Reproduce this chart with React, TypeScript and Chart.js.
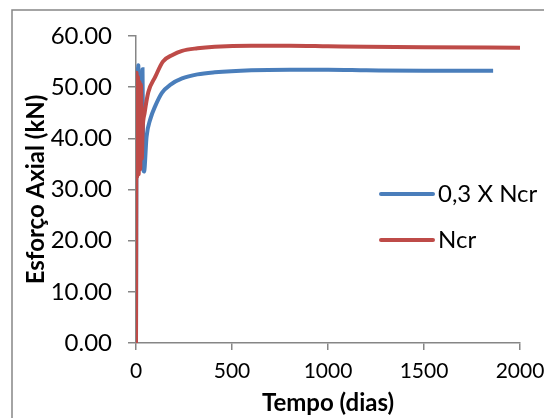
import React, { useEffect, useRef } from "react";
import { Chart, registerables } from "chart.js";

Chart.register(...registerables);

const seriesNames = ["0,3 X Ncr", "Ncr"];
const blueDays = [0, 4, 8, 12, 16, 22, 28, 34, 38, 42, 55, 75, 100, 135, 180, 240, 320, 410, 600, 800, 1000, 1200, 1500, 1860];
const blueValues = [0, 53.5, 36, 54.3, 38, 51, 37, 53.5, 34, 33.5, 40.3, 43.8, 46.3, 48.9, 50.5, 51.7, 52.5, 52.9, 53.3, 53.4, 53.4, 53.3, 53.2, 53.2];
const redDays = [0, 3, 6, 10, 14, 18, 22, 26, 30, 35, 45, 64, 100, 140, 190, 240, 320, 410, 600, 800, 1000, 1200, 1500, 2000];
const redValues = [0, 52.8, 32.5, 52, 33, 51, 34, 50.5, 36, 42, 45, 49, 52, 55, 56.3, 57.1, 57.6, 57.9, 58.1, 58.1, 58.0, 57.9, 57.8, 57.7];
const xTicks = [0, 500, 1000, 1500, 2000];
const yTicks = [0, 10, 20, 30, 40, 50, 60];

const BLUE = "#4A7EBB";
const RED = "#BE4B48";
const AXIS = "#868686";
const FONT = "Lato";
const FS = 24;

const legendBorderPlugin = {
  id: "legendBorder",
  afterDraw(chart: any) {
    const ctx = chart.ctx;
    ctx.save();
    ctx.strokeStyle = AXIS;
    ctx.lineWidth = 1.5;
    ctx.strokeRect(4, 2, chart.width + 20, chart.height + 20);
    const items = [
      { name: seriesNames[0], color: BLUE, y: 186 },
      { name: seriesNames[1], color: RED, y: 232 },
    ];
    ctx.font = `${FS}px ${FONT}`;
    ctx.textBaseline = "middle";
    ctx.textAlign = "left";
    items.forEach((it) => {
      ctx.strokeStyle = it.color;
      ctx.lineWidth = 4;
      ctx.lineCap = "round";
      ctx.beginPath();
      ctx.moveTo(373, it.y);
      ctx.lineTo(425, it.y);
      ctx.stroke();
      ctx.fillStyle = "#000";
      ctx.fillText(it.name, 430, it.y);
    });
    ctx.restore();
  },
};

export default function App() {
  const ref = useRef<HTMLCanvasElement>(null);
  useEffect(() => {
    if (!ref.current) return;
    const chart = new Chart(ref.current, {
      type: "scatter",
      data: {
        datasets: [
          {
            label: seriesNames[0],
            data: blueDays.map((d, i) => ({ x: d, y: blueValues[i] })),
            showLine: true,
            borderColor: BLUE,
            backgroundColor: BLUE,
            borderWidth: 4,
            pointRadius: 0,
            cubicInterpolationMode: "monotone",
            order: 2,
          },
          {
            label: seriesNames[1],
            data: redDays.map((d, i) => ({ x: d, y: redValues[i] })),
            showLine: true,
            borderColor: RED,
            backgroundColor: RED,
            borderWidth: 4,
            pointRadius: 0,
            cubicInterpolationMode: "monotone",
            order: 1,
          },
        ],
      },
      options: {
        animation: false,
        responsive: false,
        layout: { padding: { top: 28, right: 32, left: 0, bottom: 0 } },
        plugins: { legend: { display: false }, tooltip: { enabled: false } },
        scales: {
          x: {
            type: "linear",
            min: 0,
            max: 2000,
            afterBuildTicks: (s: any) => { s.ticks = xTicks.map((v) => ({ value: v })); },
            afterFit: (s: any) => { s.height = 75; s.paddingRight = 0; s.paddingLeft = 0; },
            grid: { drawOnChartArea: false, drawTicks: true, tickLength: 7, color: AXIS, lineWidth: 1.5 },
            border: { display: true, color: AXIS, width: 1.5 },
            ticks: { color: "#000", font: { family: FONT, size: 21 }, padding: 9, maxRotation: 0, callback: (v: any) => String(v) },
            title: { display: true, text: "Tempo (dias)", color: "#000", font: { family: FONT, size: FS, weight: "bold" }, padding: { top: 0, bottom: 0 } },
          },
          y: {
            min: 0,
            max: 60,
            afterBuildTicks: (s: any) => { s.ticks = yTicks.map((v) => ({ value: v })); },
            afterFit: (s: any) => { s.width = 128; s.paddingTop = 0; s.paddingBottom = 0; },
            grid: { drawOnChartArea: false, drawTicks: true, tickLength: 8, color: AXIS, lineWidth: 1.5 },
            border: { display: true, color: AXIS, width: 1.5 },
            ticks: { color: "#000", font: { family: FONT, size: FS }, padding: 16, callback: (v: any) => Number(v).toFixed(2) },
            title: { display: true, text: "Esforço Axial (kN)", color: "#000", font: { family: FONT, size: FS, weight: "bold" }, padding: { top: 14, bottom: 0 } },
          },
        },
      },
      plugins: [legendBorderPlugin],
    });
    return () => chart.destroy();
  }, []);
  return <canvas ref={ref} width={544} height={410} style={{ display: "block" }} />;
}
